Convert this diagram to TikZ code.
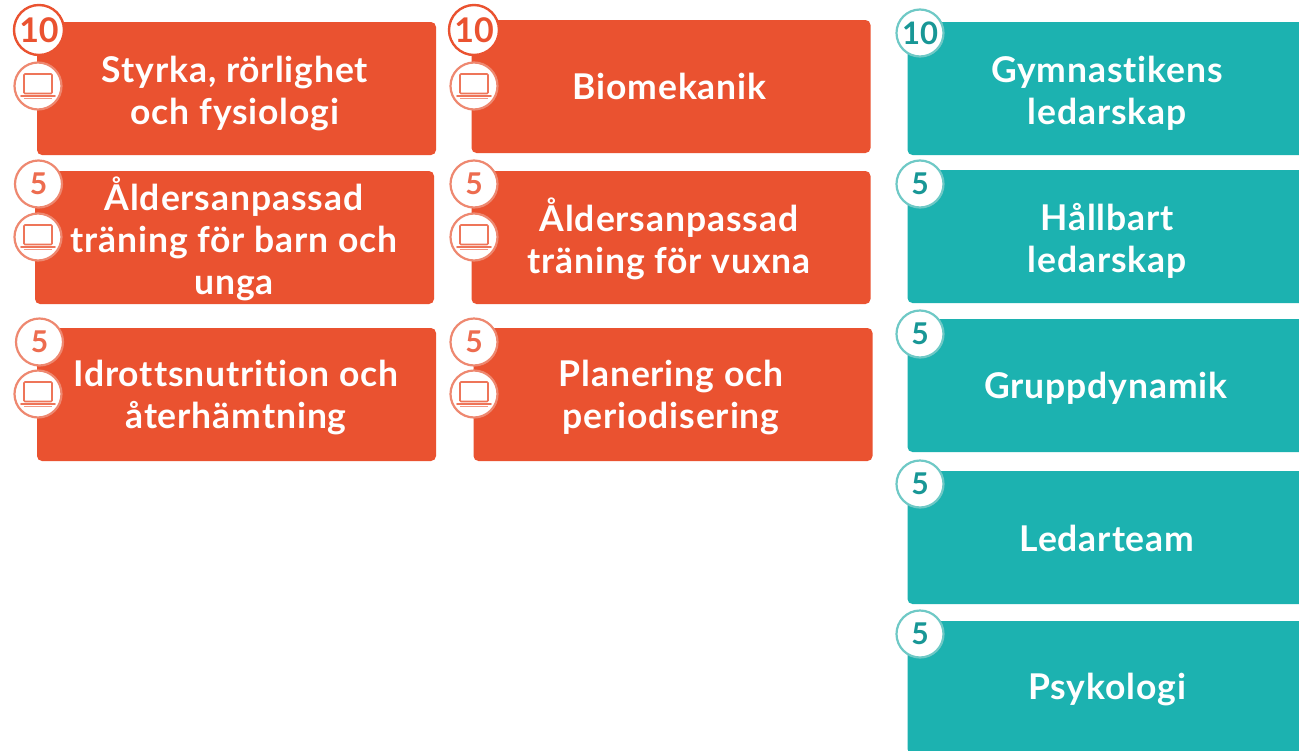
\documentclass[tikz,border=0pt]{standalone}
\usepackage{fontspec}
\setmainfont{Lato}
\newfontfamily\cardfont[LetterSpace=2.5,Ligatures={NoCommon,NoRequired},BoldFont={Lato Bold}]{Lato}
\definecolor{orangeb}{HTML}{EA5230}
\definecolor{tealb}{HTML}{1CB2B0}
\definecolor{ringo}{HTML}{EE8870}
\definecolor{ringt}{HTML}{6FC9C6}
\tikzset{
 cardbox/.style={minimum width=399pt,minimum height=133pt,rounded corners=5pt,inner sep=0pt},
 orangecard/.style={cardbox,fill=orangeb},
 tealcard/.style={cardbox,fill=tealb},
 cardtext/.style={inner sep=0pt,align=center,text=white,yshift=-3pt,font=\cardfont\fontsize{35.5}{42}\selectfont\bfseries},
 badgeo/.style={circle,fill=white,draw=orangeb,line width=2.4pt,minimum size=50pt,inner sep=0pt,text=orangeb,font=\fontsize{34}{34}\selectfont\bfseries},
 badgeos/.style={circle,fill=white,draw=ringo,line width=2.2pt,minimum size=47pt,inner sep=0pt,text=orangeb!85!white,font=\fontsize{30}{30}\selectfont\bfseries},
 badget/.style={circle,fill=white,draw=ringt,line width=2.2pt,minimum size=47pt,inner sep=0pt,text=tealb!85!black,font=\fontsize{31}{31}\selectfont\bfseries},
 badgets/.style={badget,font=\fontsize{30}{30}\selectfont\bfseries},
 iconring/.style={circle,fill=white,draw=ringo,line width=2.2pt,minimum size=47pt,inner sep=0pt},
 laptopicon/.pic={
   \draw[draw=orangeb!80!white,line width=1.6pt,rounded corners=1pt,fill=white] (-14,7.5) rectangle (14,-12);
   \draw[draw=orangeb!80!white,line width=1.6pt,line cap=round] (-17,10) -- (17,10);
   \draw[draw=orangeb!60!white,line width=1.2pt] (-14,12.5) -- (14,12.5);
 }
}
\begin{document}
\begin{tikzpicture}[x=1pt,y=-1pt]
\useasboundingbox[fill=white] (0,0) rectangle (1299,750);
% left column
\node[orangecard] (a1) at (236.5,88.5) {};
\node[cardtext] (ta1) at (235,90.5) {Styrka, rörlighet\\och fysiologi};
\node[orangecard] (a2) at (234.5,237.5) {};
\node[cardtext] (ta2) at (234,235.5) {Åldersanpassad\\träning för barn och\\unga};
\node[orangecard] (a3) at (236.5,394.5) {};
\node[cardtext] (ta3) at (236,394.5) {Idrottsnutrition och\\återhämtning};
% middle column
\node[orangecard] (b1) at (671,86.5) {};
\node[cardtext] (tb1) at (669.5,83) {Biomekanik};
\node[orangecard] (b2) at (671,237.5) {};
\node[cardtext] (tb2) at (669,235.5) {Åldersanpassad\\träning för vuxna};
\node[orangecard] (b3) at (673,394.5) {};
\node[cardtext] (tb3) at (671,394.5) {Planering och\\periodisering};
% right column
\node[tealcard] (c1) at (1107,88.5) {};
\node[cardtext] (tc1) at (1107,90.5) {Gymnastikens\\ledarskap};
\node[tealcard] (c2) at (1107,236.5) {};
\node[cardtext] (tc2) at (1107,237.5) {Hållbart\\ledarskap};
\node[tealcard] (c3) at (1107,385.5) {};
\node[cardtext] (tc3) at (1106,385) {Gruppdynamik};
\node[tealcard] (c4) at (1107,537.5) {};
\node[cardtext] (tc4) at (1107,535.5) {Ledarteam};
\node[tealcard] (c5) at (1107,687.5) {};
\node[cardtext] (tc5) at (1107,687) {Psykologi};
% credit badges
\node[badgeo] (na1) at (39,30) {10};
\node[badgeos] (na2) at (38.5,184) {5};
\node[badgeos] (na3) at (39.5,342) {5};
\node[badgeo] (nb1) at (474,30) {10};
\node[badgeos] (nb2) at (474,184) {5};
\node[badgeos] (nb3) at (474,342) {5};
\node[badget] (nc1) at (920,33) {10};
\node[badgets] (nc2) at (920,184) {5};
\node[badgets] (nc3) at (920,334) {5};
\node[badgets] (nc4) at (920,484) {5};
\node[badgets] (nc5) at (920,634) {5};
% laptop badges
\node[iconring] (ia1) at (38,86) {};
\node[iconring] (ia2) at (38,237) {};
\node[iconring] (ia3) at (38,394) {};
\node[iconring] (ib1) at (474,86) {};
\node[iconring] (ib2) at (474,237) {};
\node[iconring] (ib3) at (474,394) {};
\foreach \n in {ia1,ia2,ia3,ib1,ib2,ib3} \pic at (\n.center) {laptopicon};
\end{tikzpicture}
\end{document}
